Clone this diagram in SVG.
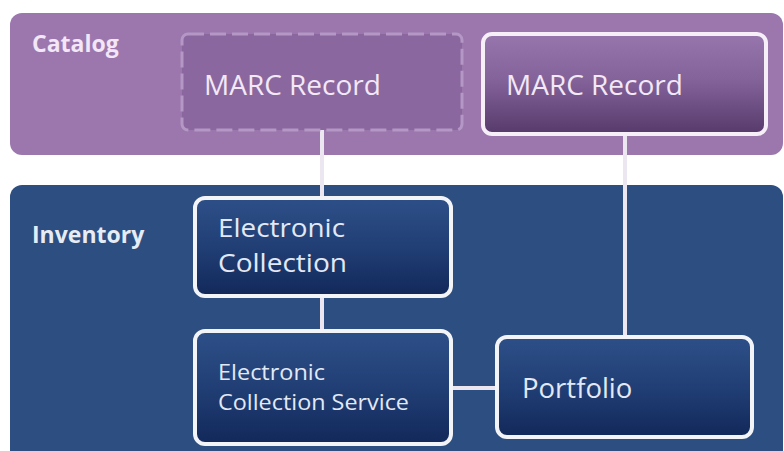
<svg xmlns="http://www.w3.org/2000/svg" width="784" height="451" viewBox="0 0 784 451">
<defs>
<linearGradient id="gPurple" x1="0" y1="0" x2="0" y2="1">
<stop offset="0" stop-color="#9676ac"/>
<stop offset="0.45" stop-color="#84639b"/>
<stop offset="1" stop-color="#573a6b"/>
</linearGradient>
<linearGradient id="gBlue" x1="0" y1="0" x2="0" y2="1">
<stop offset="0" stop-color="#2d4f88"/>
<stop offset="0.5" stop-color="#213f75"/>
<stop offset="1" stop-color="#12285a"/>
</linearGradient>
<style>
.panelC{fill:#9b77ae}
.panelI{fill:#2d4e81}
.lbl{font-family:"Open Sans","DejaVu Sans",sans-serif;font-weight:bold;font-size:23px}
.txt{font-family:"Open Sans","DejaVu Sans",sans-serif}
.pbox{fill:url(#gPurple);stroke:#f6eff8;stroke-width:4}
.dbox{fill:#8a679e;stroke:#b497c5;stroke-width:3;stroke-dasharray:16 6}
.bbox{fill:url(#gBlue);stroke:#f2f4f8;stroke-width:4}
.conn{stroke:#ece6f0;stroke-width:4;fill:none}
.ptxt{fill:#f3e8f6}
.btxt{fill:#e2e9f5}
</style>
</defs>
<rect width="784" height="451" fill="#ffffff"/>
<g id="catalog">
<rect class="panelC" x="10" y="13" width="773" height="142" rx="12"/>
<text class="lbl" x="32" y="52" fill="#f3e6f6">Catalog</text>
</g>
<g id="inventory">
<rect class="panelI" x="10" y="185" width="773" height="290" rx="12"/>
<text class="lbl" x="32" y="243" fill="#e6ecf6">Inventory</text>
</g>
<g id="connectors">
<line class="conn" x1="322" y1="130" x2="322" y2="198"/>
<line class="conn" x1="322" y1="296" x2="322" y2="331"/>
<line class="conn" x1="625" y1="135" x2="625" y2="337"/>
<line class="conn" x1="451" y1="388" x2="497" y2="388"/>
</g>
<g id="marc-record-dashed">
<rect class="dbox" x="182" y="34" width="280" height="96" rx="6"/>
<text class="txt ptxt" x="204" y="95" font-size="28">MARC Record</text>
</g>
<g id="marc-record">
<rect class="pbox" x="483" y="34" width="283" height="100" rx="9"/>
<text class="txt ptxt" x="506" y="95" font-size="28">MARC Record</text>
</g>
<g id="electronic-collection">
<rect class="bbox" x="195" y="198" width="256" height="98" rx="10"/>
<text class="txt btxt" x="218" y="237" font-size="25.5" textLength="127" lengthAdjust="spacingAndGlyphs">Electronic</text>
<text class="txt btxt" x="218" y="272" font-size="25.5" textLength="129" lengthAdjust="spacingAndGlyphs">Collection</text>
</g>
<g id="electronic-collection-service">
<rect class="bbox" x="195" y="331" width="256" height="113" rx="10"/>
<text class="txt btxt" x="218" y="380" font-size="22" textLength="107" lengthAdjust="spacingAndGlyphs">Electronic</text>
<text class="txt btxt" x="218" y="410" font-size="22" textLength="191" lengthAdjust="spacingAndGlyphs">Collection Service</text>
</g>
<g id="portfolio">
<rect class="bbox" x="497" y="337" width="255" height="100" rx="10"/>
<text class="txt btxt" x="522" y="398" font-size="27.5">Portfolio</text>
</g>
</svg>
